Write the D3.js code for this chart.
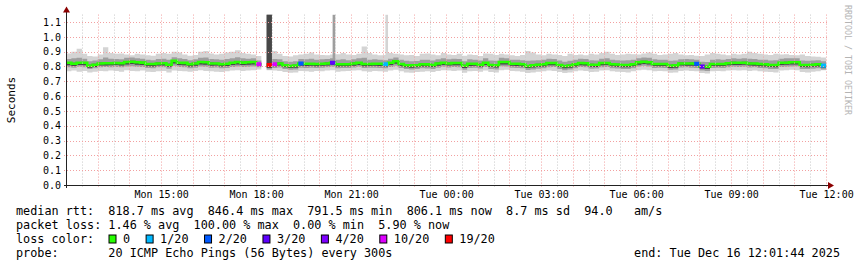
<!DOCTYPE html>
<html><head><meta charset="utf-8">
<script src="https://cdn.jsdelivr.net/npm/d3@7"></script>
<style>
body{margin:0;background:#fff}
svg{display:block;background:#fff}
text{font-family:"DejaVu Sans Mono",monospace;white-space:pre}
</style>
</head><body>
<svg id="c" width="857" height="267"></svg>
<script>
// ---------- data ----------
const rangeStart = "2025-12-15T12:01:44";
const rangeEnd   = "2025-12-16T12:01:44";
const dataStart = "2025-12-15T12:00";
const stepMinutes = 10;

// median RTT (ms) per 10-min step
const median = [
825,818,825,825,805,812,820,822,822,823,822,830,
832,828,826,817,817,820,822,812,838,825,824,815,
820,830,828,820,820,815,818,825,830,826,828,830,
815,null,810,815,820,808,803,806,820,818,818,817,
818,820,825,815,815,815,820,825,817,817,818,818,
815,825,835,817,808,807,808,815,814,810,820,825,
820,823,823,805,818,818,812,825,810,808,830,830,
818,818,815,803,808,812,815,823,823,810,803,806,
815,823,822,812,812,823,823,815,813,810,810,815,
828,832,828,817,817,817,805,807,820,820,820,818,
800,798,817,817,817,822,825,825,825,820,820,817,
815,810,810,825,825,828,828,810,810,812,815,806];

// smoke: outer band (all pings)
const smokeHi1 = [
888,900,920,885,870,868,880,930,890,885,888,880,
875,885,880,875,872,885,890,885,900,895,880,872,
878,900,905,888,880,885,895,900,910,890,885,880,
870,null,1150,905,885,870,868,875,880,885,895,880,
878,875,880,882,890,880,878,885,935,890,880,875,
878,890,885,880,875,878,870,885,888,880,875,890,
880,878,885,872,880,878,870,888,885,878,885,880,
875,870,878,905,895,880,875,885,880,878,870,885,
878,880,875,885,880,890,900,885,878,880,885,882,
880,888,895,885,878,880,885,890,880,875,878,872,
870,880,890,885,880,875,885,880,885,900,890,885,
880,878,885,880,882,878,875,880,870,868,865,860];
const smokeLo1 = [
768,772,765,770,760,765,770,768,772,770,765,775,
770,768,772,765,762,768,770,760,772,770,768,765,
770,775,770,768,765,762,768,772,775,770,772,775,
780,null,775,772,770,762,758,760,770,768,765,770,
768,772,775,765,768,770,772,775,768,765,770,768,
765,772,778,768,760,758,762,765,768,762,770,775,
772,770,772,758,768,770,765,772,762,760,775,778,
770,768,765,755,760,765,768,772,770,762,755,760,
768,772,770,762,765,772,775,768,765,762,760,768,
775,778,775,768,770,768,758,760,770,772,770,768,
755,752,768,770,768,772,775,772,775,770,772,768,
765,762,760,772,775,778,775,762,760,765,768,775];
// smoke: middle band
const smokeHi2 = [
850,855,858,852,835,840,848,860,852,850,848,858,
860,855,852,845,842,850,852,845,862,855,850,842,
848,858,860,850,848,845,850,855,862,855,852,855,
840,null,1150,850,848,835,832,835,850,848,852,845,
848,850,855,845,848,842,848,855,858,845,848,845,
842,852,860,845,838,835,836,845,846,840,848,855,
848,852,850,835,848,845,840,855,840,838,858,855,
846,845,842,838,840,842,845,852,850,840,832,838,
845,852,850,842,840,852,855,845,842,840,842,845,
855,860,858,848,845,846,838,840,848,850,848,845,
832,830,846,848,845,850,855,852,855,852,850,846,
845,840,842,852,855,856,855,840,838,840,842,835];
const smokeLo2 = [
795,792,798,795,782,788,795,796,794,797,795,800,
802,798,796,790,788,794,795,785,805,797,795,788,
792,800,798,792,793,788,790,797,800,796,798,800,
795,null,780,790,793,782,778,780,792,790,792,790,
791,794,798,788,790,789,793,798,790,791,792,790,
788,797,805,790,782,780,783,788,787,783,792,798,
793,796,795,778,790,792,786,797,783,780,802,800,
791,790,788,776,780,785,788,795,796,783,775,779,
788,796,794,785,786,795,797,788,786,783,782,788,
800,804,800,790,791,790,778,780,793,794,792,790,
772,770,790,791,790,795,798,797,798,793,794,790,
788,783,782,797,798,800,801,783,782,785,788,780];
// smoke: inner band (around the median)
const smokeHi3 = [
830,825,830,830,812,818,826,828,827,828,828,835,
838,833,831,823,822,826,828,818,843,830,829,821,
826,835,833,826,825,821,823,830,836,831,833,835,
822,null,1150,822,826,814,809,812,826,823,824,822,
823,826,830,821,820,821,826,830,823,822,824,823,
821,830,840,823,814,812,814,820,820,816,826,830,
826,828,829,811,823,824,818,830,816,813,836,835,
824,823,821,809,813,818,820,829,828,816,809,811,
821,828,828,818,817,829,828,821,818,816,815,821,
833,838,833,823,822,823,811,812,826,825,826,823,
806,804,823,822,823,827,831,830,831,826,825,823,
820,816,815,830,831,833,834,816,815,818,820,812];
const smokeLo3 = [
808,803,810,808,792,797,806,806,808,809,806,814,
816,812,810,802,800,806,807,798,820,810,808,800,
805,814,812,805,806,800,803,810,814,810,812,814,
805,null,790,802,806,794,790,792,805,803,804,802,
804,806,810,800,802,801,805,810,802,803,804,803,
800,810,818,802,794,792,795,800,800,796,805,810,
806,808,808,790,803,804,798,810,796,793,814,813,
804,803,800,789,793,798,800,808,808,796,788,792,
800,808,807,798,797,808,809,801,798,795,795,801,
812,816,813,803,802,803,790,792,806,805,805,803,
786,783,803,802,803,808,810,810,811,806,805,802,
800,796,795,810,811,813,814,796,795,798,800,792];

// single-ping outliers (5-min steps)
const spikeTimes = ["2025-12-15T20:25","2025-12-15T22:05"];
const spikeValues = [1150, 1150];
const spikeFrom = [840, 845];
const spikeBand = [2, 1];

// loss (pings lost out of 20) per step where > 0
const lossTimes  = ["2025-12-15T18:00","2025-12-15T18:20","2025-12-15T18:30","2025-12-15T19:20","2025-12-15T20:20","2025-12-15T22:00","2025-12-16T07:50","2025-12-16T08:00","2025-12-16T11:50"];
const lossCounts = [10,19,10,2,3,1,2,3,1];

const lossLevels = [0,1,2,3,4,10,19];
const lossLabels = ["0","1/20","2/20","3/20","4/20","10/20","19/20"];

const yTicks = [0,0.1,0.2,0.3,0.4,0.5,0.6,0.7,0.8,0.9,1.0,1.1];
const xTicks = ["2025-12-15T15:00","2025-12-15T18:00","2025-12-15T21:00","2025-12-16T00:00","2025-12-16T03:00","2025-12-16T06:00","2025-12-16T09:00","2025-12-16T12:00"];

const legendRtt  = "median rtt:  818.7 ms avg  846.4 ms max  791.5 ms min  806.1 ms now  8.7 ms sd  94.0   am/s";
const legendLoss = "packet loss: 1.46 % avg  100.00 % max  0.00 % min  5.90 % now";
const legendColor = "loss color:";
const legendProbe = "probe:       20 ICMP Echo Pings (56 Bytes) every 300s";
const legendEnd = "end: Tue Dec 16 12:01:44 2025";
const yTitle = "Seconds";
const watermark = "RRDTOOL / TOBI OETIKER";

// ---------- styles ----------
const lossPalette = {0:"#26ff00",1:"#00b8ff",2:"#0059ff",3:"#5e00ff",4:"#7e00ff",10:"#dd00ff",19:"#ff0000"};
const bandColors = ["#d4d4d4","#9e9e9e","#474747"];

// ---------- scales ----------
const parseS = d3.timeParse("%Y-%m-%dT%H:%M:%S");
const parseM = d3.timeParse("%Y-%m-%dT%H:%M");
const T0 = parseS(rangeStart), T1 = parseS(rangeEnd);
const L = 67, R = 827, B = 185, PXPERUNIT = 148.18;
const TOP = B - 1.15*PXPERUNIT;
const x = d3.scaleTime().domain([T0,T1]).range([L,R]);
const y = d3.scaleLinear().domain([0,1.15]).range([B,TOP]);

const svg = d3.select("#c");
const defs = svg.append("defs");
defs.append("clipPath").attr("id","plot").append("rect")
  .attr("x",L).attr("y",TOP).attr("width",R-L).attr("height",B-TOP);

const d0 = parseM(dataStart);
const stepMs = stepMinutes*60000;
const tAt = k => new Date(+d0 + k*stepMs);

function stepPoints(loArr, hiArr){
  const pts=[];
  for(let k=0;k<median.length;k++){
    if(loArr[k]==null||hiArr[k]==null){pts.push({gap:true});continue;}
    pts.push({t:tAt(k),lo:loArr[k],hi:hiArr[k]});
    pts.push({t:tAt(k+1),lo:loArr[k],hi:hiArr[k]});
  }
  return pts;
}
const area = d3.area().defined(d=>!d.gap)
  .x(d=>x(d.t)).y0(d=>y(d.lo/1000)).y1(d=>y(d.hi/1000));

const plot = svg.append("g").attr("clip-path","url(#plot)");
const bands = [[smokeLo1,smokeHi1],[smokeLo2,smokeHi2],[smokeLo3,smokeHi3]];
plot.selectAll("path.band").data(bands).join("path").attr("class","band")
  .attr("d",b=>area(stepPoints(b[0],b[1])))
  .attr("fill",(b,i)=>bandColors[i]);

// outlier spikes
const spikes = spikeTimes.map((s,i)=>({t:parseM(s),v:spikeValues[i],f:spikeFrom[i],b:spikeBand[i]}));
plot.selectAll("rect.spike").data(spikes).join("rect").attr("class","spike")
  .attr("x",d=>x(d.t)).attr("width",d=>x(new Date(+d.t+300000))-x(d.t))
  .attr("y",d=>y(d.v/1000)).attr("height",d=>y(d.f/1000)-y(d.v/1000))
  .attr("fill",d=>bandColors[d.b-1]);

// median line
const medPts = stepPoints(median, median);
const line = d3.line().defined(d=>!d.gap).x(d=>x(d.t)).y(d=>y(d.hi/1000));
plot.append("path").attr("d",line(medPts)).attr("fill","none")
  .attr("stroke",lossPalette[0]).attr("stroke-width",2.6);

// loss-coloured segments
const losses = lossTimes.map((s,i)=>{const t=parseM(s);const k=Math.round((t-d0)/stepMs);return {t,k,c:lossCounts[i],v:median[k]};}).filter(d=>d.v!=null);
plot.selectAll("rect.loss").data(losses).join("rect").attr("class","loss")
  .attr("x",d=>x(d.t)).attr("width",d=>x(tAt(d.k+1))-x(d.t))
  .attr("y",d=>y(d.v/1000)-2).attr("height",4)
  .attr("fill",d=>lossPalette[d.c]);

// ---------- grid ----------
const grid = svg.append("g");
const minor = d3.timeMinute.every(30).range(T0,T1).filter(d=>d.getMinutes()!==0);
const major = d3.timeHour.range(T0,T1);
grid.selectAll("line.mi").data(minor).join("line")
  .attr("x1",d=>Math.round(x(d))+0.5).attr("x2",d=>Math.round(x(d))+0.5)
  .attr("y1",TOP).attr("y2",B+3).attr("stroke","#c8c8c8").attr("stroke-dasharray","1,2");
grid.selectAll("line.ma").data(major).join("line")
  .attr("x1",d=>Math.round(x(d))+0.5).attr("x2",d=>Math.round(x(d))+0.5)
  .attr("y1",TOP).attr("y2",B+3).attr("stroke","#f2a0a0").attr("stroke-dasharray","1,2");
grid.selectAll("line.h").data(yTicks.filter(v=>v>0)).join("line")
  .attr("x1",L-3).attr("x2",R).attr("y1",d=>Math.round(y(d))+0.5).attr("y2",d=>Math.round(y(d))+0.5)
  .attr("stroke","#f2a0a0").attr("stroke-dasharray","1,2");

// ---------- axes ----------
const axCol = "#222";
svg.append("line").attr("x1",L-3).attr("x2",R+2).attr("y1",B+0.5).attr("y2",B+0.5).attr("stroke",axCol);
svg.append("line").attr("x1",L-0.5).attr("x2",L-0.5).attr("y1",B+3).attr("y2",TOP-3).attr("stroke",axCol);
svg.append("path").attr("d",`M${R+1},${B-3}L${R+7},${B+0.5}L${R+1},${B+4}Z`).attr("fill","#8b0000");
svg.append("path").attr("d",`M${L-4},${TOP-2}L${L-0.5},${TOP-8}L${L+3},${TOP-2}Z`).attr("fill","#8b0000");

const yAxis = d3.axisLeft(y).tickValues(yTicks).tickFormat(d3.format(".1f")).tickSize(0).tickPadding(6);
const gy = svg.append("g").attr("transform",`translate(${L},0)`).call(yAxis);
gy.select(".domain").remove();
gy.selectAll("text").attr("font-family","DejaVu Sans Mono").attr("font-size",10).attr("fill","#000");

const xAxis = d3.axisBottom(x).tickValues(xTicks.map(parseM)).tickFormat(d3.timeFormat("%a %H:%M")).tickSize(0).tickPadding(6);
const gx = svg.append("g").attr("transform",`translate(0,${B})`).call(xAxis);
gx.select(".domain").remove();
gx.selectAll("text").attr("font-family","DejaVu Sans Mono").attr("font-size",10).attr("fill","#000");

svg.append("text").attr("transform","translate(15,100) rotate(-90)").attr("text-anchor","middle")
  .attr("font-size",11).text(yTitle);
svg.append("text").attr("transform","translate(845,60) rotate(90)").attr("text-anchor","middle")
  .attr("font-size",8.3).attr("fill","#b4b4b4").text(watermark);

// ---------- legend ----------
const fs = 11.8, LX = 16;
const leg = svg.append("g").attr("font-size",fs).attr("fill","#000");
leg.append("text").attr("x",LX).attr("y",215).text(legendRtt);
leg.append("text").attr("x",LX).attr("y",229).text(legendLoss);
leg.append("text").attr("x",LX).attr("y",243).text(legendColor);
leg.append("text").attr("x",LX).attr("y",257).text(legendProbe);
leg.append("text").attr("x",840).attr("y",257).attr("text-anchor","end").text(legendEnd);

let cx = 108.5;
lossLevels.forEach((lv,i)=>{
  leg.append("rect").attr("x",cx+0.5).attr("y",235).attr("width",7).attr("height",8)
    .attr("fill",lossPalette[lv]).attr("stroke","#000").attr("stroke-width",1);
  const t = leg.append("text").attr("x",cx+14.5).attr("y",243).text(lossLabels[i]);
  cx = cx + 14.5 + t.node().getComputedTextLength() + 15.5;
});
</script>
</body></html>
